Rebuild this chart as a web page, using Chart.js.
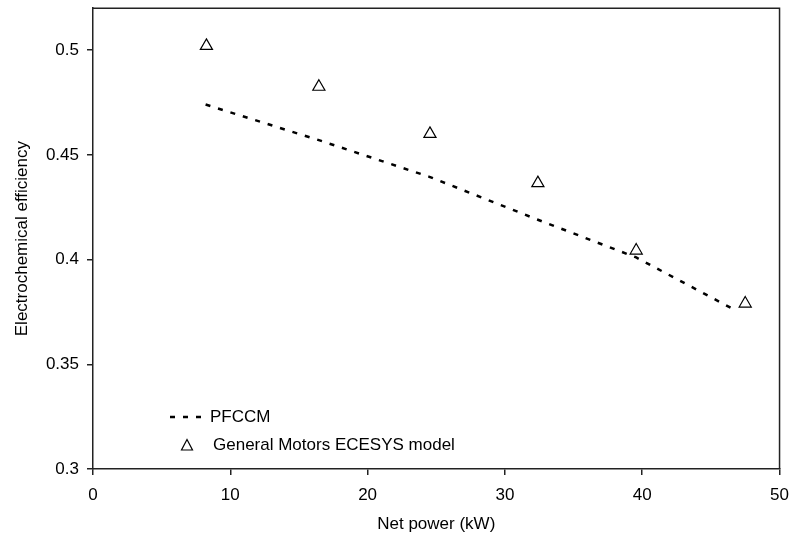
<!DOCTYPE html>
<html>
<head>
<meta charset="utf-8">
<script src="https://cdn.jsdelivr.net/npm/chart.js@4.4.0/dist/chart.umd.min.js"></script>
<style>
html,body{margin:0;padding:0;background:#fff;overflow:hidden;}
#wrap{position:relative;width:792px;height:535px;overflow:hidden;}
#c{position:absolute;left:0;top:-10px;}
</style>
</head>
<body>
<div id="wrap"><canvas id="c" width="799" height="545"></canvas></div>
<script>
const xTicks = [0, 10, 20, 30, 40, 50];
const yTicks = [0.3, 0.35, 0.4, 0.45, 0.5];
const pfccmX = [8.2, 16.45, 24.5, 32.4, 39.56, 46.9];
const pfccmY = [0.474, 0.457, 0.4395, 0.419, 0.401, 0.3754];
const gmX = [8.26, 16.45, 24.54, 32.4, 39.56, 47.5];
const gmY = [0.502, 0.4825, 0.460, 0.4365, 0.4043, 0.379];
const legendLabels = ['PFCCM', 'General Motors ECESYS model'];

const FONT = "'Liberation Sans', Arial, sans-serif";
const FS = 17;
const OFFY = 10; // canvas is shifted up by this amount

const frame = {
  id: 'frame',
  afterDatasetsDraw(chart) {
    const {ctx, chartArea: a} = chart;
    ctx.save();
    ctx.strokeStyle = '#222';
    ctx.lineWidth = 1.5;
    ctx.beginPath();
    ctx.moveTo(a.left, a.top);
    ctx.lineTo(a.right, a.top);
    ctx.lineTo(a.right, a.bottom);
    ctx.stroke();
    // legend
    ctx.fillStyle = '#000';
    ctx.font = FS + 'px ' + FONT;
    ctx.textBaseline = 'middle';
    ctx.textAlign = 'left';
    const y1 = 417 + OFFY, y2 = 445 + OFFY;
    ctx.strokeStyle = '#000';
    ctx.lineWidth = 2.5;
    ctx.setLineDash([5, 8]);
    ctx.beginPath();
    ctx.moveTo(170, y1);
    ctx.lineTo(205, y1);
    ctx.stroke();
    ctx.setLineDash([]);
    ctx.fillText(legendLabels[0], 210, y1);
    ctx.lineWidth = 1.2;
    ctx.beginPath();
    ctx.moveTo(187, y2 - 5.5);
    ctx.lineTo(192.5, y2 + 5);
    ctx.lineTo(181.5, y2 + 5);
    ctx.closePath();
    ctx.stroke();
    ctx.fillText(legendLabels[1], 213, y2);
    ctx.restore();
  }
};

new Chart(document.getElementById('c'), {
  type: 'line',
  data: {
    datasets: [
      {
        label: legendLabels[0],
        data: pfccmX.map((x, i) => ({x, y: pfccmY[i]})),
        borderColor: '#000',
        borderWidth: 2.5,
        borderDash: [5, 8],
        pointRadius: 0,
        fill: false,
        tension: 0
      },
      {
        label: legendLabels[1],
        data: gmX.map((x, i) => ({x, y: gmY[i]})),
        showLine: false,
        pointStyle: 'triangle',
        pointRadius: 7,
        pointBackgroundColor: '#fff',
        pointBorderColor: '#000',
        pointBorderWidth: 1.2
      }
    ]
  },
  options: {
    responsive: false,
    animation: false,
    events: [],
    layout: {padding: {left: 0, right: 7, top: 1, bottom: 0}},
    plugins: {legend: {display: false}, tooltip: {enabled: false}},
    scales: {
      x: {
        type: 'linear',
        min: 0, max: 50,
        afterBuildTicks: s => { s.ticks = xTicks.map(v => ({value: v})); },
        afterFit: s => { s.height = 66; },
        border: {display: true, color: '#222', width: 1.5},
        grid: {display: true, drawOnChartArea: false, drawTicks: true, tickLength: 6, color: '#222', lineWidth: 1.5},
        ticks: {color: '#000', font: {family: FONT, size: FS}, padding: 10, maxRotation: 0},
        title: {display: true, text: 'Net power (kW)', color: '#000', font: {family: FONT, size: FS}, padding: {top: 0, bottom: 0}}
      },
      y: {
        type: 'linear',
        min: 0.3, max: 0.52,
        afterBuildTicks: s => { s.ticks = yTicks.map(v => ({value: v})); },
        afterFit: s => { s.width = 93; },
        border: {display: true, color: '#222', width: 1.5},
        grid: {display: true, drawOnChartArea: false, drawTicks: true, tickLength: 6, color: '#222', lineWidth: 1.5},
        ticks: {color: '#000', font: {family: FONT, size: FS}, padding: 8, callback: v => String(+v.toFixed(2))},
        title: {display: true, text: 'Electrochemical efficiency', color: '#000', font: {family: FONT, size: FS}, padding: {top: 12, bottom: 0}}
      }
    }
  },
  plugins: [frame]
});
</script>
</body>
</html>
